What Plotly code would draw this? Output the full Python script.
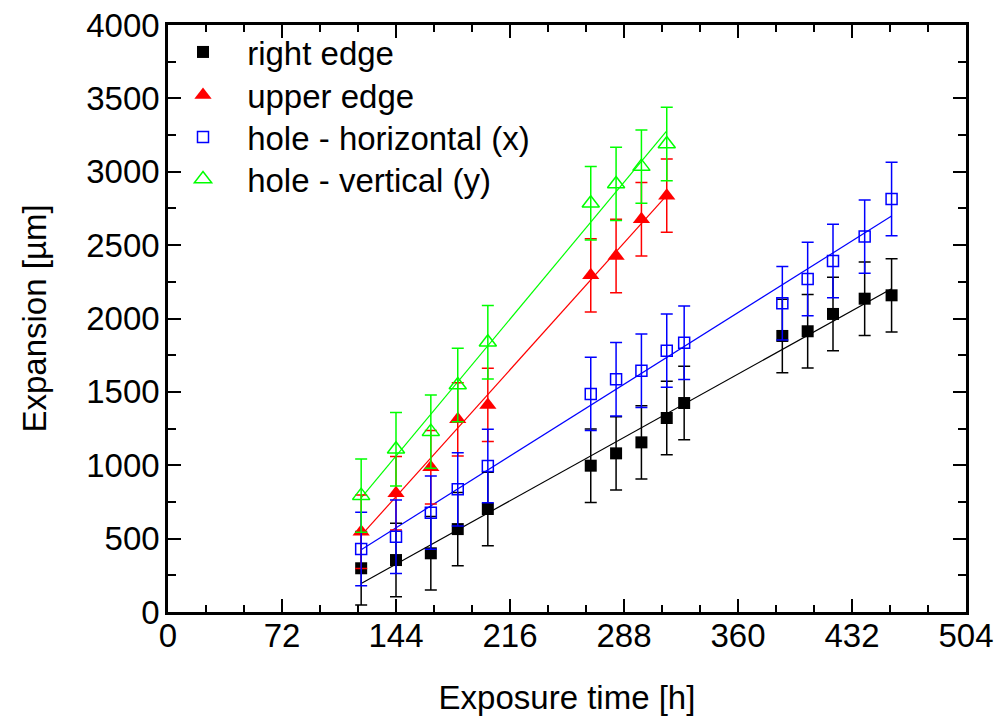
import numpy as np
import plotly.graph_objects as go

# ---- data ----
t_right = [122, 144, 166, 183, 202, 267, 283, 299, 315, 326, 388, 404, 420, 440, 457]
right_edge = [298, 354, 400, 565, 702, 997, 1081, 1156, 1322, 1424, 1881, 1913, 2031, 2135, 2158]
right_err = [250] * 15

t_upper = [122, 144, 166, 183, 202, 267, 283, 299, 315]
upper_edge = [547, 809, 986, 1313, 1411, 2294, 2426, 2676, 2837]
upper_err = [250] * 9

t_hole_x = [122, 144, 166, 183, 202, 267, 283, 299, 315, 326, 388, 404, 420, 440, 457]
hole_x = [429, 513, 677, 836, 995, 1486, 1586, 1644, 1781, 1835, 2104, 2269, 2392, 2558, 2814]
hole_x_err = [250] * 15

t_hole_y = [122, 144, 166, 183, 202, 267, 283, 299, 315]
hole_y = [793, 1109, 1229, 1547, 1838, 2785, 2917, 3035, 3189]
hole_y_err = [250] * 9

x_ticks = [0, 72, 144, 216, 288, 360, 432, 504]
y_ticks = [0, 500, 1000, 1500, 2000, 2500, 3000, 3500, 4000]

FONT = "Liberation Sans, Arial, sans-serif"

series = [
    ("right edge", t_right, right_edge, right_err, "#000000",
     dict(symbol="square", size=12, color="#000000", line=dict(width=0))),
    ("upper edge", t_upper, upper_edge, upper_err, "#ff0000",
     dict(symbol="triangle-up", size=15, color="#ff0000", line=dict(width=0))),
    ("hole - horizontal (x)", t_hole_x, hole_x, hole_x_err, "#0000ff",
     dict(symbol="square-open", size=11, color="#0000ff", line=dict(width=1.5, color="#0000ff"))),
    ("hole - vertical (y)", t_hole_y, hole_y, hole_y_err, "#00ff00",
     dict(symbol="triangle-up-open", size=15, color="#00ff00", line=dict(width=1.5, color="#00ff00"))),
]
legend_ids = ["legend", "legend2", "legend3", "legend4"]

fig = go.Figure()

# linear fit lines
for name, t, v, e, col, mk in series:
    k, b = np.polyfit(t, v, 1)
    xs = [min(t), max(t)]
    fig.add_trace(go.Scatter(x=xs, y=[k * xs[0] + b, k * xs[1] + b], mode="lines",
                             line=dict(color=col, width=1.2), showlegend=False,
                             hoverinfo="skip"))

for (name, t, v, e, col, mk), lg in zip(series, legend_ids):
    fig.add_trace(go.Scatter(
        x=t, y=v, mode="markers", name="\u00a0" + name, marker=mk, legend=lg,
        error_y=dict(type="data", array=e, visible=True, color=col, thickness=1.5, width=6),
    ))

axis_common = dict(
    showline=True, linewidth=2.5, linecolor="black", mirror="allticks",
    ticks="inside", ticklen=13, tickwidth=2, tickcolor="black",
    showgrid=False, zeroline=False, automargin=False, ticklabeloverflow="allow",
    tickfont=dict(family=FONT, size=33, color="black"),
)

fig.update_xaxes(
    range=[0, 504], tickmode="array", tickvals=x_ticks, ticktext=[str(v) for v in x_ticks],
    minor=dict(dtick=24, tick0=0, ticks="inside", ticklen=7, tickwidth=2, tickcolor="black"),
    title=dict(text="Exposure time [h]", font=dict(family=FONT, size=33, color="black"), standoff=33),
    ticklabelstandoff=-7,
    **axis_common,
)
fig.update_yaxes(
    range=[0, 4000], tickmode="array", tickvals=y_ticks, ticktext=[str(v) for v in y_ticks],
    minor=dict(dtick=250, tick0=0, ticks="inside", ticklen=8, tickwidth=2, tickcolor="black"),
    title=dict(text="Expansion [µm]", font=dict(family=FONT, size=33, color="black"), standoff=30),
    ticklabelstandoff=-1,
    **axis_common,
)

legend_style = dict(x=0.0, xanchor="left", yanchor="top",
                    bgcolor="rgba(0,0,0,0)", borderwidth=0,
                    font=dict(family=FONT, size=33, color="black"),
                    itemwidth=60)
# legend entry centres (px from plot top): 29, 72, 114, 156 ; plot height 587 px
entry_offsets = [29, 72, 114, 156]
legends = {}
for lg, off in zip(legend_ids, entry_offsets):
    legends[lg] = dict(legend_style, y=1.0 - (off - 30) / 587.0)

fig.update_layout(
    width=997, height=708,
    margin=dict(l=160, r=39, t=17, b=104, autoexpand=False),
    paper_bgcolor="white", plot_bgcolor="white",
    font=dict(family=FONT, color="black"),
    showlegend=True,
    **legends,
)

fig.write_html("out.html")
